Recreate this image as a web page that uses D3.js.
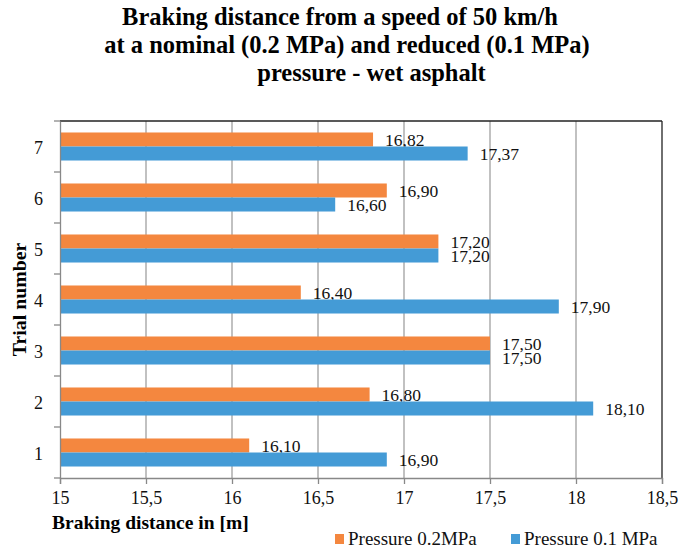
<!DOCTYPE html>
<html><head><meta charset="utf-8">
<script src="https://cdn.jsdelivr.net/npm/d3@7"></script>
<style>body{margin:0;background:#fff}svg{display:block}</style>
</head><body>
<svg id="c" width="681" height="549"></svg>
<script>
const categories = ["1","2","3","4","5","6","7"];
const seriesNames = ["Pressure 0.2MPa","Pressure 0.1 MPa"];
const pressure02 = [16.10,16.80,17.50,16.40,17.20,16.90,16.82];
const pressure01 = [16.90,18.10,17.50,17.90,17.20,16.60,17.37];
const xTicks = [15,15.5,16,16.5,17,17.5,18,18.5];
const titleLines = ["Braking distance from a speed of 50 km/h","at a nominal (0.2 MPa) and reduced (0.1 MPa)","pressure - wet asphalt"];
const colors = ["#f4873f","#449bd6"];
const FF = "'Liberation Serif'";

const svg = d3.select("#c");
const L=60,R=662,T=121,B=478;
const x = d3.scaleLinear().domain([15,18.5]).range([L,R]);
const y = d3.scaleBand().domain(categories.slice().reverse()).range([T,B]).paddingInner(0).paddingOuter(0);
const inner = d3.scaleBand().domain([0,1]).range([0,y.bandwidth()]).paddingInner(0).paddingOuter(0.82);
const fmt = v => v.toFixed(2).replace(".",",");

// title
const tx=[340,347,371.5], ty=[25,53,81];
titleLines.forEach((t,i)=>svg.append("text").attr("x",tx[i]).attr("y",ty[i]).attr("text-anchor","middle")
  .style("font-family",FF).attr("font-size",24.5).attr("font-weight","bold").attr("fill","#000").text(t));

// gridlines
svg.append("g").selectAll("line").data(xTicks.slice(1,-1)).join("line")
  .attr("x1",d=>x(d)).attr("x2",d=>x(d)).attr("y1",T).attr("y2",B).attr("stroke","#a0a0a0").attr("stroke-width",1.3);
// border top/right
svg.append("line").attr("x1",L).attr("x2",R).attr("y1",T).attr("y2",T).attr("stroke","#222").attr("stroke-width",1.3);
svg.append("line").attr("x1",R).attr("x2",R).attr("y1",T).attr("y2",B).attr("stroke","#222").attr("stroke-width",1.3);

// bars
const data = categories.map((c,i)=>({c,v:[pressure02[i],pressure01[i]]}));
const g = svg.append("g");
data.forEach(d=>{
  d.v.forEach((v,s)=>{
    const yy = y(d.c)+inner(s);
    g.append("rect").attr("x",x(15)).attr("y",yy).attr("width",x(v)-x(15)).attr("height",inner.bandwidth()).attr("fill",colors[s]);
    g.append("text").attr("x",x(v)+12).attr("y",yy+inner.bandwidth()-1).style("font-family",FF).attr("font-size",17.5).attr("fill","#111").text(fmt(v));
  });
});

// x axis
const xa = svg.append("g").attr("transform",`translate(0,${B})`).call(d3.axisBottom(x).tickValues(xTicks).tickSize(6).tickPadding(7).tickFormat(d=>String(d).replace(".",",")));
xa.select(".domain").attr("stroke","#888").attr("stroke-width",1.3);
xa.selectAll(".tick line").attr("stroke","#888").attr("stroke-width",1.3);
xa.selectAll("text").attr("font-size",18).style("font-family",FF).attr("fill","#111");

// y axis
const ya = svg.append("g").attr("transform",`translate(${L},0)`).call(d3.axisLeft(y).tickSize(0).tickPadding(17));
ya.select(".domain").attr("stroke","#888").attr("stroke-width",1.3);
ya.selectAll("text").attr("font-size",18).attr("dy","0.4em").style("font-family",FF).attr("fill","#111");
const bounds = categories.map(c=>y(c)).concat([B]);
svg.append("g").selectAll("line").data(bounds).join("line").attr("x1",L-6).attr("x2",L).attr("y1",d=>d).attr("y2",d=>d).attr("stroke","#888").attr("stroke-width",1.3);

// axis titles
svg.append("text").attr("x",52).attr("y",529).style("font-family",FF).attr("font-size",19.5).attr("font-weight","bold").attr("fill","#000").text("Braking distance in [m]");
svg.append("text").attr("transform","translate(25.5,299.5) rotate(-90)").attr("text-anchor","middle").style("font-family",FF).attr("font-size",19.8).attr("font-weight","bold").attr("fill","#000").text("Trial number");

// legend
const lx=[335,511];
seriesNames.forEach((n,i)=>{
  svg.append("rect").attr("x",lx[i]).attr("y",534).attr("width",9).attr("height",10).attr("fill",colors[i]);
  svg.append("text").attr("x",lx[i]+13).attr("y",545).style("font-family",FF).attr("font-size",19).attr("fill","#111").text(n);
});
</script>
</body></html>
